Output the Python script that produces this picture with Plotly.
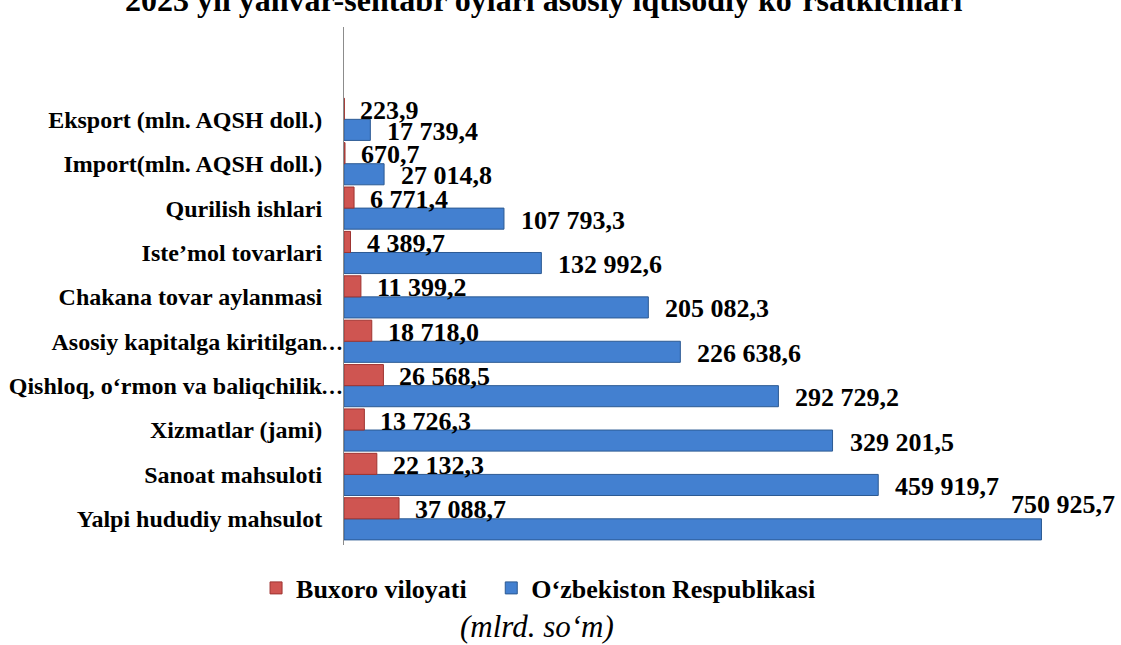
import plotly.graph_objects as go

# ---- data (listed bottom-to-top, as in the source chart) ----
categories = [
    "Yalpi hududiy mahsulot",
    "Sanoat mahsuloti",
    "Xizmatlar (jami)",
    "Qishloq, o‘rmon va baliqchilik…",
    "Asosiy kapitalga kiritilgan…",
    "Chakana tovar aylanmasi",
    "Iste’mol tovarlari",
    "Qurilish ishlari",
    "Import(mln. AQSH doll.)",
    "Eksport (mln. AQSH doll.)",
]
buxoro_values = [37088.7, 22132.3, 13726.3, 26568.5, 18718.0, 11399.2, 4389.7, 6771.4, 670.7, 223.9]
uzb_values = [750925.7, 459919.7, 329201.5, 292729.2, 226638.6, 205082.3, 132992.6, 107793.3, 27014.8, 17739.4]
# bar lengths as drawn in the reference (the two longest bars are drawn shorter than their labels)
uzb_bar_lengths = [470000, 360000, 329201.5, 292729.2, 226638.6, 205082.3, 132992.6, 107793.3, 27014.8, 17739.4]

series_names = ["Buxoro viloyati", "O‘zbekiston Respublikasi"]
title_text = "2023 yil yanvar-sentabr oylari asosiy iqtisodiy ko‘rsatkichlari"
unit_text = "(mlrd. so‘m)"

FONT = "Liberation Serif, Times New Roman, serif"
RED = "#CF5551"
RED_LINE = "#9E3431"
BLUE = "#4380D0"
BLUE_LINE = "#2C5A93"


def fmt(v):
    return f"{v:,.1f}".replace(",", " ").replace(".", ",")


fig = go.Figure()
fig.add_trace(go.Bar(
    y=categories, x=uzb_bar_lengths, orientation="h", name=series_names[1],
    marker=dict(color=BLUE, line=dict(color=BLUE_LINE, width=1)),
    legendrank=2, hoverinfo="skip",
))
fig.add_trace(go.Bar(
    y=categories, x=buxoro_values, orientation="h",
    name=series_names[0] + "\u00a0\u00a0\u00a0",
    marker=dict(color=RED, line=dict(color=RED_LINE, width=1)),
    legendrank=1, hoverinfo="skip",
))

annotations = []
label_font = dict(family=FONT, size=26, color="black", weight="bold")
imax = max(range(len(uzb_values)), key=lambda i: uzb_values[i])
for i, cat in enumerate(categories):
    annotations.append(dict(
        x=buxoro_values[i], y=cat, xref="x", yref="y", text=fmt(buxoro_values[i]),
        showarrow=False, xanchor="left", yanchor="middle", xshift=14, yshift=9,
        font=label_font,
    ))
    if i == imax:
        annotations.append(dict(
            x=uzb_bar_lengths[i], y=cat, xref="x", yref="y", text=fmt(uzb_values[i]),
            showarrow=False, xanchor="right", yanchor="middle", xshift=76, yshift=14,
            font=label_font,
        ))
    else:
        annotations.append(dict(
            x=uzb_bar_lengths[i], y=cat, xref="x", yref="y", text=fmt(uzb_values[i]),
            showarrow=False, xanchor="left", yanchor="middle", xshift=15, yshift=-12,
            font=label_font,
        ))

# tick labels; truncated ones get their ellipsis drawn against the axis
tick_text = []
for cat in categories:
    if cat.endswith("…"):
        tick_text.append(cat[:-1])
        annotations.append(dict(
            x=0, y=cat, xref="x", yref="y", text="…", showarrow=False,
            xanchor="right", yanchor="middle", xshift=1, yshift=-1,
            font=dict(family=FONT, size=22, color="black", weight="bold"),
        ))
    else:
        tick_text.append(cat)

annotations.append(dict(
    x=0.276, y=-0.158, xref="paper", yref="paper", text=unit_text, showarrow=False,
    xanchor="center", yanchor="middle",
    font=dict(family=FONT, size=31, color="black", style="italic"),
))

fig.update_layout(
    width=1121, height=645,
    margin=dict(l=344, r=79, t=27, b=100, autoexpand=False),
    paper_bgcolor="white", plot_bgcolor="white",
    barmode="group", bargap=0.05, bargroupgap=0,
    title=dict(text=title_text, x=0.485, xanchor="center", y=1.0, yanchor="middle",
               yref="container",
               font=dict(family=FONT, size=32, color="black", weight="bold")),
    xaxis=dict(visible=False, range=[0, 470350], automargin=False),
    yaxis=dict(
        type="category", range=[-0.59, 11.08], automargin=False,
        tickvals=categories, ticktext=tick_text,
        showline=True, linecolor="#8c8c8c", linewidth=1,
        ticks="", showgrid=False, zeroline=False,
        ticklabelstandoff=16,
        tickfont=dict(family=FONT, size=24, color="black", weight="bold"),
    ),
    showlegend=True,
    legend=dict(
        orientation="h", x=-0.126, xanchor="left", y=-0.083, yanchor="middle",
        font=dict(family=FONT, size=26, color="black", weight="bold"),
        bgcolor="rgba(0,0,0,0)",
    ),
    annotations=annotations,
)

fig.write_html("out.html")
